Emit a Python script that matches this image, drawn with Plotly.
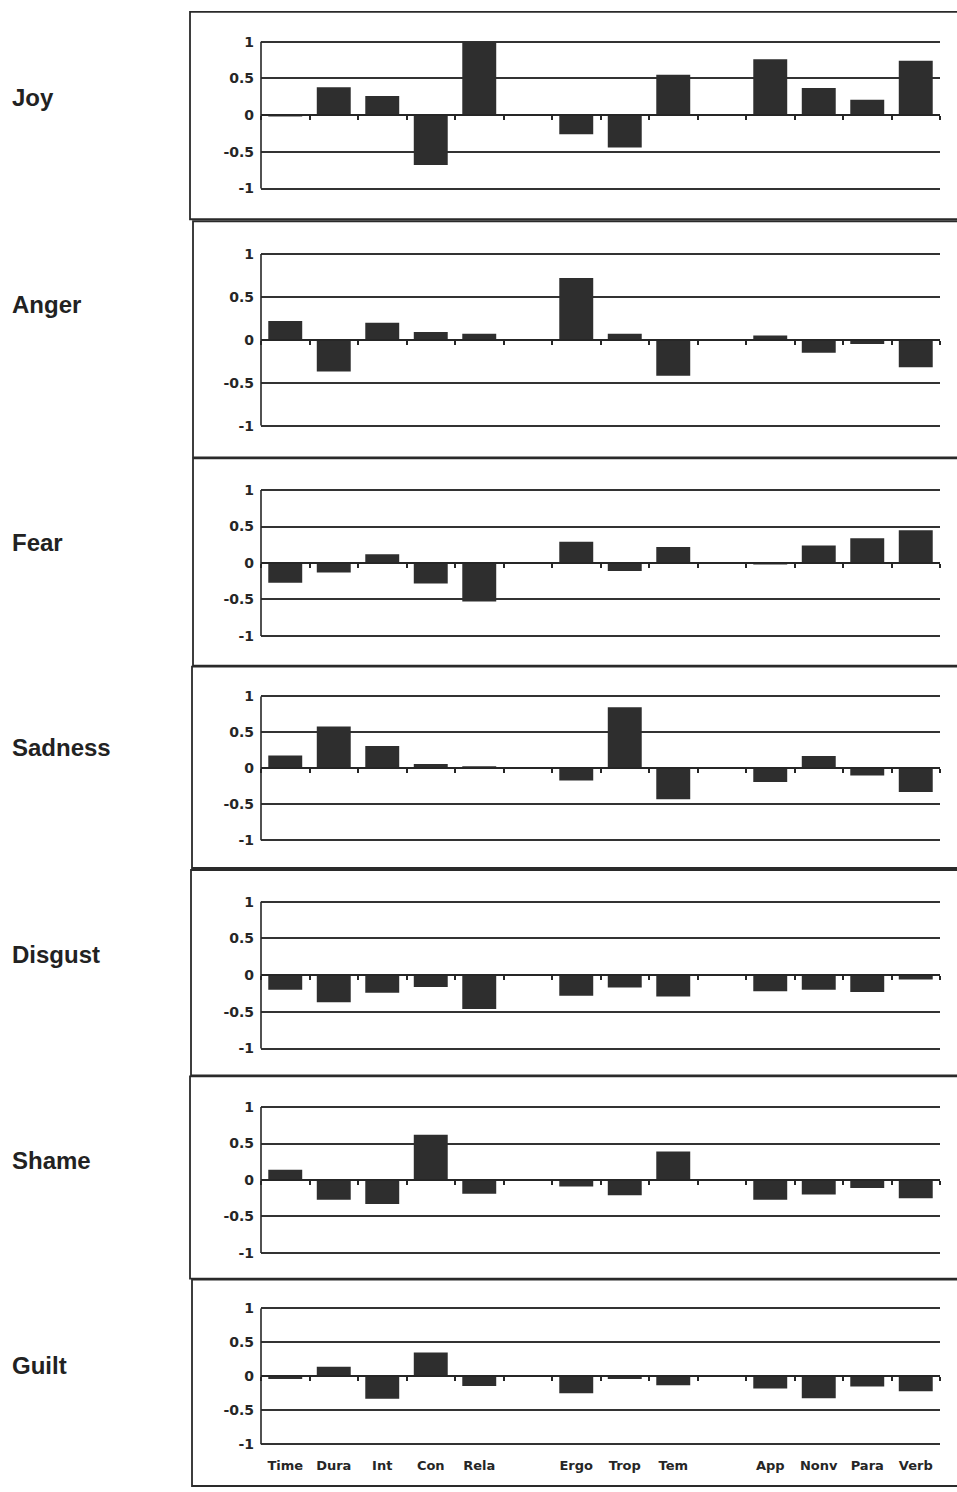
import plotly.graph_objects as go

W, H = 957, 1492

categories = ["Time", "Dura", "Int", "Con", "Rela", "Ergo", "Trop", "Tem", "App", "Nonv", "Para", "Verb"]
slots = ["Time", "Dura", "Int", "Con", "Rela", " ", "Ergo", "Trop", "Tem", "  ", "App", "Nonv", "Para", "Verb"]

emotions = ["Joy", "Anger", "Fear", "Sadness", "Disgust", "Shame", "Guilt"]

joy = [-0.02, 0.38, 0.26, -0.68, 1.00, -0.26, -0.44, 0.55, 0.76, 0.37, 0.21, 0.74]
anger = [0.22, -0.37, 0.20, 0.09, 0.07, 0.72, 0.07, -0.42, 0.05, -0.15, -0.05, -0.32]
fear = [-0.27, -0.13, 0.12, -0.28, -0.53, 0.29, -0.11, 0.22, -0.02, 0.24, 0.34, 0.45]
sadness = [0.18, 0.58, 0.31, 0.06, 0.03, -0.17, 0.85, -0.43, -0.19, 0.17, -0.10, -0.33]
disgust = [-0.20, -0.37, -0.24, -0.16, -0.46, -0.28, -0.17, -0.29, -0.22, -0.20, -0.23, -0.06]
shame = [0.14, -0.27, -0.33, 0.62, -0.19, -0.09, -0.21, 0.39, -0.27, -0.20, -0.11, -0.25]
guilt = [-0.04, 0.14, -0.33, 0.35, -0.14, -0.25, -0.04, -0.13, -0.18, -0.32, -0.15, -0.22]

series = [joy, anger, fear, sadness, disgust, shame, guilt]

y_ticks = [-1, -0.5, 0, 0.5, 1]
y_ticktext = ["-1", "-0.5", "0", "0.5", "1"]

# layout geometry (pixels)
plot_x0, plot_x1 = 261, 938
panel_rows = [  # (y at +1, y at -1, box top, box bottom, label y)
    (36, 184, 6, 215, 92),
    (250, 423, 217, 455, 301),
    (488, 635, 456, 665, 541),
    (696, 841, 666, 869, 748),
    (903, 1051, 871, 1078, 956),
    (1110, 1257, 1079, 1283, 1164),
    (1313, 1450, 1284, 1492, 1371),
]
box_left = [190, 193, 193, 192, 191, 190, 192]
PAD = 0.035  # range padding beyond +/-1 so the outer grid lines are drawn

INK = "#262626"
BAR = "#2e2e2e"

def px(x):
    return x / W

def py(y):
    return 1 - y / H

fig = go.Figure()
layout = dict(
    width=W, height=H, margin=dict(l=0, r=0, t=0, b=0),
    paper_bgcolor="white", plot_bgcolor="rgba(0,0,0,0)",
    showlegend=False,
    font=dict(family="DejaVu Sans", color=INK),
)
shapes = []
annotations = []

for i, (name, vals) in enumerate(zip(emotions, series)):
    k = i + 1
    xa = "x" if k == 1 else f"x{k}"
    ya = "y" if k == 1 else f"y{k}"
    fig.add_trace(go.Bar(
        x=categories, y=vals, xaxis=xa, yaxis=ya,
        marker=dict(color=BAR, line=dict(width=0)), width=0.7,
        hoverinfo="x+y",
    ))
    ytop, ybot, btop, bbot, ly = panel_rows[i]
    half = (ybot - ytop) / 2
    zero_px = (ytop + ybot) / 2
    layout[f"xaxis{'' if k == 1 else k}"] = dict(
        domain=[px(plot_x0), px(plot_x1 + 2)],
        anchor="free", position=py(zero_px),
        type="category", categoryorder="array", categoryarray=slots,
        range=[-0.5, len(slots) - 0.5],
        showline=True, linecolor=INK, linewidth=1.8,
        ticks="outside", ticklen=4, tickcolor=INK, tickwidth=1.5,
        tickson="boundaries", showticklabels=False, showgrid=False,
        zeroline=False, fixedrange=True,
    )
    layout[f"yaxis{'' if k == 1 else k}"] = dict(
        domain=[py(ybot + PAD * half), py(ytop - PAD * half)],
        anchor=xa, range=[-1 - PAD, 1 + PAD],
        tickvals=y_ticks, ticktext=y_ticktext,
        showgrid=True, gridcolor="#333333", gridwidth=1.6,
        zeroline=False, showline=False,
        ticks="", ticklabelstandoff=6,
        tickfont=dict(family="DejaVu Sans", size=14, color=INK, weight="bold"),
        fixedrange=True,
    )
    # left axis line spanning -1..1
    shapes.append(dict(
        type="line", xref=f"{xa} domain", yref=ya,
        x0=0, x1=0, y0=-1, y1=1,
        line=dict(color=INK, width=1.6),
    ))
    shapes.append(dict(
        type="rect", xref="paper", yref="paper",
        x0=px(box_left[i]), x1=1.01, y0=py(bbot), y1=py(btop),
        line=dict(color="#2a2a2a", width=1.8), fillcolor="rgba(0,0,0,0)", layer="below",
    ))
    annotations.append(dict(
        xref="paper", yref="paper", x=px(10), y=py(ly), xanchor="left", yanchor="middle",
        text=f"<b>{name}</b>", showarrow=False,
        font=dict(family="Liberation Sans", size=24, color="#222222"),
    ))

# category labels under the last panel
label_pos = [slots.index(c) for c in categories]
fig.add_trace(go.Scatter(
    x=label_pos, y=[0] * len(label_pos), xaxis="x8", yaxis="y7",
    mode="markers", marker=dict(opacity=0), hoverinfo="skip", showlegend=False,
))
layout["xaxis8"] = dict(
    domain=[px(plot_x0), px(plot_x1 + 2)], anchor="y7", overlaying="x7", side="bottom",
    type="linear", range=[-0.5, len(slots) - 0.5],
    tickvals=label_pos, ticktext=categories,
    showline=False, showgrid=False, zeroline=False, ticks="",
    ticklabelstandoff=9,
    tickfont=dict(family="DejaVu Sans", size=13, color=INK, weight="bold"),
    fixedrange=True,
)

layout["shapes"] = shapes
layout["annotations"] = annotations
fig.update_layout(**layout)
fig.write_html(
    "out.html",
    config={"displayModeBar": False},
    post_script="document.body.style.margin='0px';document.documentElement.style.overflow='hidden';",
)
